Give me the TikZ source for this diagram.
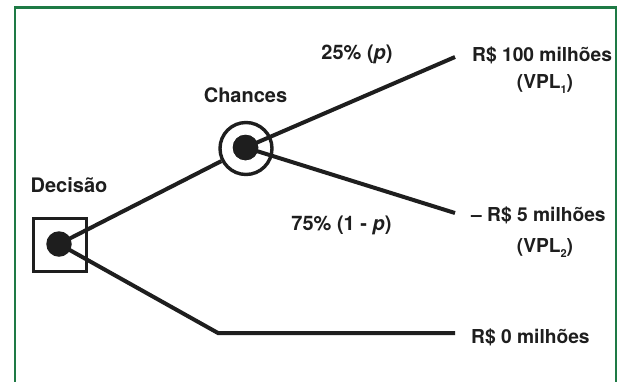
\documentclass[tikz,border=0pt]{standalone}
\usepackage{fontspec}
\setmainfont{TeX Gyre Heros}
\usetikzlibrary{backgrounds}
\definecolor{frame}{HTML}{1E7A45}
\definecolor{ink}{HTML}{1E1E1E}
\newcommand{\sub}[1]{\raisebox{-4.5pt}{\fontsize{11}{11}\selectfont #1}}
\begin{document}
\begin{tikzpicture}[x=1pt,y=-1pt,
  lbl/.style={font=\fontsize{20}{30}\selectfont\bfseries, text=ink, inner sep=0pt},
  val/.style={lbl, font=\fontsize{19.2}{30}\selectfont\bfseries},
  edge/.style={draw=ink, line width=4pt},
  dot/.style={circle, fill=ink, minimum size=25.5pt, inner sep=0pt},
  decbox/.style={draw=ink, line width=3.4pt, minimum size=53pt, inner sep=0pt},
  ring/.style={circle, draw=ink, fill=white, line width=3.4pt, minimum size=52pt, inner sep=0pt}]
\useasboundingbox (0,0) rectangle (623,381);
% frame (open at the bottom)
\draw[frame, line width=2.4pt] (14.8,390) -- (14.8,7.6) -- (616,7.6) -- (616,390);
% nodes
\node[decbox] (box) at (60,245) {};
\node[dot] (d) at (59,244) {};
\node[ring] (ch) at (246,148.5) {};
\node[dot] (c) at (245.5,147.5) {};
\coordinate (e1) at (455,57);
\coordinate (e2) at (455,213);
\coordinate (k) at (218,333);
\coordinate (e3) at (455,333);
% connectors
\begin{scope}[on background layer]
\fill[white] (0,0) rectangle (623,381);
\draw[edge] (d.center) -- (ch);
\draw[edge, line join=miter] (d.center) -- (k) -- (e3);
\end{scope}
\draw[edge] (c.center) -- (e1);
\draw[edge] (c.center) -- (e2);
\fill[ink] (c) circle (12.75pt);
% labels
\node[lbl] (tdec) at (69,185) {Decisão};
\node[lbl] (tch) at (245.5,95) {Chances};
\node[lbl] (tp) at (357,54) {25\% (\textit{p})};
\node[lbl] (tq) at (341.5,225) {75\% (1 - \textit{p})};
\node[val, anchor=west] (r1) at (472,55) {R\$ 100 milhões};
\node[val] (v1) at (545,84) {(VPL\sub{1})};
\node[val, anchor=west] (r2) at (471,215) {– R\$ 5 milhões};
\node[val] (v2) at (545,248) {(VPL\sub{2})};
\node[val, anchor=west] (r3) at (471,337) {R\$ 0 milhões};
\end{tikzpicture}
\end{document}
